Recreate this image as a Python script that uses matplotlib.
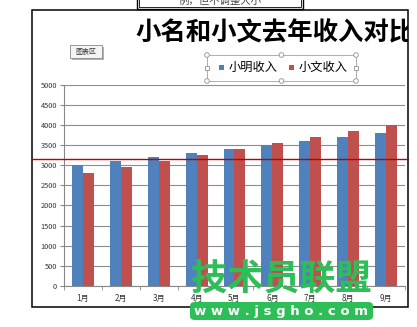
import matplotlib
matplotlib.use("Agg")
import matplotlib.pyplot as plt
from matplotlib.patches import Rectangle, FancyBboxPatch, Circle
from matplotlib.transforms import blended_transform_factory
import numpy as np

plt.rcParams['font.family'] = ['Noto Sans CJK SC', 'DejaVu Sans']

months = ['1月', '2月', '3月', '4月', '5月', '6月', '7月', '8月', '9月']
xiaoming = [3000, 3100, 3200, 3300, 3400, 3500, 3600, 3700, 3800]
xiaowen = [2800, 2950, 3100, 3250, 3400, 3550, 3700, 3850, 4000]
ref_value = 3140
yticks = [0, 500, 1000, 1500, 2000, 2500, 3000, 3500, 4000, 4500, 5000]
title = '小名和小文去年收入对比图'
series_names = ['小明收入', '小文收入']

W, H = 417, 327
fig = plt.figure(figsize=(W / 100, H / 100), dpi=100)
fig.patch.set_facecolor('white')

def fx(x): return x / W
def fy(y): return 1 - y / H

BLUE = '#4F81BD'
RED = '#C0504D'

# chart area frame axes (for clipping title)
frame = fig.add_axes([fx(32), fy(307), fx(408) - fx(32), fy(10) - fy(307)])
frame.set_xlim(32, 408)
frame.set_ylim(307, 10)
frame.axis('off')
frame.add_patch(Rectangle((32, 10), 376, 297, fill=False, edgecolor='black', lw=1.1, clip_on=False))
frame.text(135, 33, title, fontsize=18.3, fontweight='heavy', va='center', ha='left',
           color='black', clip_on=True)

# chart-area label tooltip
frame.add_patch(Rectangle((72, 47), 32, 13, facecolor='#B0B0B0', edgecolor='none', clip_on=False))
frame.add_patch(Rectangle((70, 45), 32, 13, facecolor='#F4F4F4', edgecolor='#888888', lw=0.6, clip_on=False))
frame.text(86, 51.5, '图表区', fontsize=5, ha='center', va='center', color='#333333')

# legend with selection handles
lx0, lx1, ly0, ly1 = 207, 356, 55, 81
frame.add_patch(Rectangle((lx0, ly0), lx1 - lx0, ly1 - ly0, fill=False, edgecolor='#A0A0A0', lw=0.6))
for hx in (lx0, (lx0 + lx1) / 2, lx1):
    for hy in (ly0, ly1):
        frame.add_patch(Circle((hx, hy), 2.3, facecolor='white', edgecolor='#909090', lw=0.6, zorder=5))
for hy in ((ly0 + ly1) / 2,):
    for hx in (lx0, lx1):
        frame.add_patch(Rectangle((hx - 2, hy - 2), 4, 4, facecolor='white', edgecolor='#909090', lw=0.6, zorder=5))
frame.add_patch(Rectangle((219, 65), 5, 5, facecolor=BLUE, edgecolor='none'))
frame.text(229, 67.5, series_names[0], fontsize=8.8, va='center', ha='left')
frame.add_patch(Rectangle((289, 65), 5, 5, facecolor=RED, edgecolor='none'))
frame.text(299, 67.5, series_names[1], fontsize=8.8, va='center', ha='left')

# main plot
ax = fig.add_axes([fx(64), fy(286), fx(405) - fx(64), fy(84.5) - fy(286)])
x = np.arange(len(months))
bw = 0.29
ax.bar(x - bw / 2, xiaoming, width=bw, color=BLUE, zorder=3)
ax.bar(x + bw / 2, xiaowen, width=bw, color=RED, zorder=3)
ax.set_xlim(-0.5, len(months) - 0.5)
ax.set_ylim(0, 5000)
ax.set_yticks(yticks)
ax.set_yticklabels([str(v) for v in yticks], fontsize=5.3, color='#333333')
ax.yaxis.grid(True, color='#8C8C8C', lw=0.8, zorder=0)
ax.set_xticks(x)
ax.set_xticklabels(months, fontsize=5.8, color='#333333')
ax.tick_params(axis='x', length=0, pad=6)
ax.set_xticks(np.arange(-0.5, len(months), 1), minor=True)
ax.tick_params(axis='x', which='minor', length=3, color='#888888')
ax.tick_params(axis='y', length=3, color='#888888', pad=2)
for s in ('top', 'right'):
    ax.spines[s].set_visible(False)
ax.spines['left'].set_color('#888888')
ax.spines['bottom'].set_color('#888888')
ax.patch.set_alpha(0)

# reference line across chart area
tr = blended_transform_factory(fig.transFigure, ax.transData)
ax.plot([fx(32), fx(408)], [ref_value, ref_value], color='#C00000', lw=1.0, transform=tr,
        clip_on=False, zorder=6)

# top caption box (partially cut off)
fig.patches.append(Rectangle((fx(137), fy(9)), fx(303) - fx(137), fy(-5) - fy(9),
                             transform=fig.transFigure, fill=False, edgecolor='black', lw=1.0))
fig.patches.append(Rectangle((fx(139), fy(7)), fx(301) - fx(139), fy(-5) - fy(7),
                             transform=fig.transFigure, fill=False, edgecolor='black', lw=0.6))
fig.text(fx(220), fy(0.5), '例，但不调整大小', fontsize=7.5, ha='center', va='center', color='#444444')

# watermark
GREEN = '#2EBE58'
fig.text(fx(281), fy(280), '技术员联盟', fontsize=26, fontweight='heavy', color=GREEN,
         ha='center', va='center', zorder=10)
fig.patches.append(FancyBboxPatch((fx(190), fy(320)), fx(373) - fx(190), fy(302) - fy(320),
                                  boxstyle='round,pad=0,rounding_size=0.012',
                                  transform=fig.transFigure, facecolor=GREEN, edgecolor='none', zorder=10))
fig.text(fx(281), fy(311), 'w w w . j s g h o . c o m', fontsize=9.5, fontweight='bold', color='white',
         ha='center', va='center', zorder=11, family='DejaVu Sans')

fig.savefig('out.png', dpi=100)
